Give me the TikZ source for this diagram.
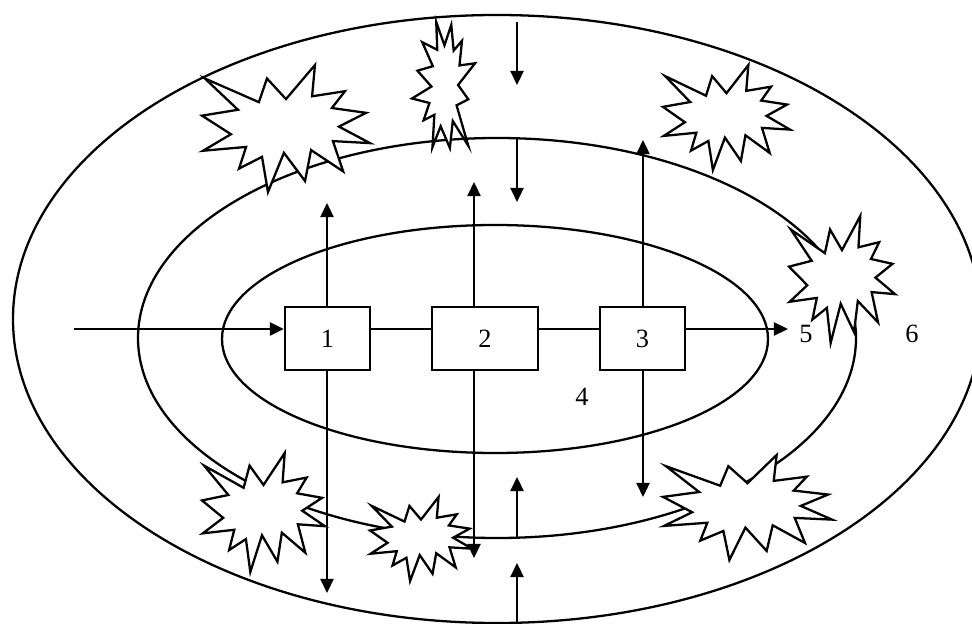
\documentclass[tikz,border=0pt]{standalone}
\usepackage{fontspec}
\setmainfont{Liberation Serif}
\usetikzlibrary{arrows.meta}
\tikzset{
  stagebox/.style={draw=black, line width=1.3pt, fill=white, minimum height=12.6mm,
    inner sep=0pt, font=\fontsize{15}{18}\selectfont},
  flow/.style={-{Triangle[length=8pt, width=7.4pt]}, line width=1.4pt},
  link/.style={line width=1.3pt},
  zone/.style={line width=1.3pt},
  burst/.style={draw=black, fill=white, line width=1.3pt, line join=miter},
  numtxt/.style={font=\fontsize{15}{18}\selectfont, inner sep=0pt},
}
% corner points of one explosion outline, unit box, y downwards
\newcommand{\sealpts}{0.6723/0, 0.6553/0.2465, 0.8509/0.2063, 0.7732/0.3387,
  0.9767/0.3767, 0.8151/0.4850, 1/0.6153, 0.7795/0.5992, 0.8400/0.8377,
  0.6491/0.6693, 0.6133/0.9137, 0.4876/0.6914, 0.3928/1, 0.3572/0.7235,
  0.2205/0.8156, 0.2624/0.6452, 0.0063/0.6753, 0.1723/0.5451, 0/0.3988,
  0.2142/0.3526, 0.0171/0.1063, 0.3385/0.2926, 0.3867/0.1063}
\newcommand{\explosion}[4]{\draw[burst, shift={(#1,#2)}, xscale=#3, yscale=#4]
  (0.5,0.2685) \foreach \u/\v in \sealpts { -- (\u,\v) } -- cycle;}
\newcommand{\explosionturned}[4]{\draw[burst, shift={(#1,#2)}, xscale=#3, yscale=#4]
  (0.7315,0.5) \foreach \u/\v in \sealpts { -- ({1-\v},{1-\u}) } -- cycle;}

\begin{document}
\begin{tikzpicture}[x=0.02cm, y=-0.02cm]
  \clip (0,0) rectangle (972,624);

  %% ---- zones ----
  \draw[zone] (497,319) ellipse [x radius=484, y radius=304];
  \draw[zone] (497,338) ellipse [x radius=359, y radius=200];
  \draw[zone] (495,339) ellipse [x radius=273, y radius=114];

  %% ---- disturbances ----
  \explosion{202}{65}{168}{127}
  \explosionturned{412}{22}{63}{126}
  \explosion{663}{65}{127}{105}
  \explosion{789}{216}{106}{127}
  \explosion{202}{453}{123}{119}
  \explosion{370}{497}{102}{84}
  \explosion{663}{455}{169}{105}

  %% ---- stages ----
  \node[stagebox, minimum width=17mm]   (b1) at (327.5,338.5) {1};
  \node[stagebox, minimum width=21.2mm] (b2) at (485,338.5)   {2};
  \node[stagebox, minimum width=17mm]   (b3) at (642.5,338.5) {3};

  \node[numtxt] (l4) at (582,397) {4};
  \node[numtxt] (l5) at (806,334) {5};
  \node[numtxt] (l6) at (912,334) {6};

  %% ---- main line ----
  \coordinate (axis) at (0,329);
  \coordinate (in)   at (74,329);
  \coordinate (out)  at (788,329);
  \draw[flow] (in) -- (in -| b1.west);
  \draw[link] (b1.east |- axis) -- (b2.west |- axis);
  \draw[link] (b2.east |- axis) -- (b3.west |- axis);
  \draw[flow] (out -| b3.east) -- (out);

  %% ---- exchanges of each stage ----
  \coordinate (up1) at (327,203);  \coordinate (dn1) at (327,593);
  \coordinate (up2) at (474,182);  \coordinate (dn2) at (474,558);
  \coordinate (up3) at (643,140);  \coordinate (dn3) at (643,497);
  \draw[flow] (up1 |- b1.north) -- (up1);
  \draw[flow] (dn1 |- b1.south) -- (dn1);
  \draw[flow] (up2 |- b2.north) -- (up2);
  \draw[flow] (dn2 |- b2.south) -- (dn2);
  \draw[flow] (up3 |- b3.north) -- (up3);
  \draw[flow] (dn3 |- b3.south) -- (dn3);

  %% ---- inflows through the zones ----
  \coordinate (s1a) at (517,22);   \coordinate (s1b) at (517,85);
  \coordinate (s2a) at (517,138);  \coordinate (s2b) at (517,202);
  \coordinate (s3a) at (517,538);  \coordinate (s3b) at (517,477);
  \coordinate (s4a) at (517,624);  \coordinate (s4b) at (517,563);
  \draw[flow] (s1a) -- (s1b);
  \draw[flow] (s2a) -- (s2b);
  \draw[flow] (s3a) -- (s3b);
  \draw[flow] (s4a) -- (s4b);
\end{tikzpicture}
\end{document}
